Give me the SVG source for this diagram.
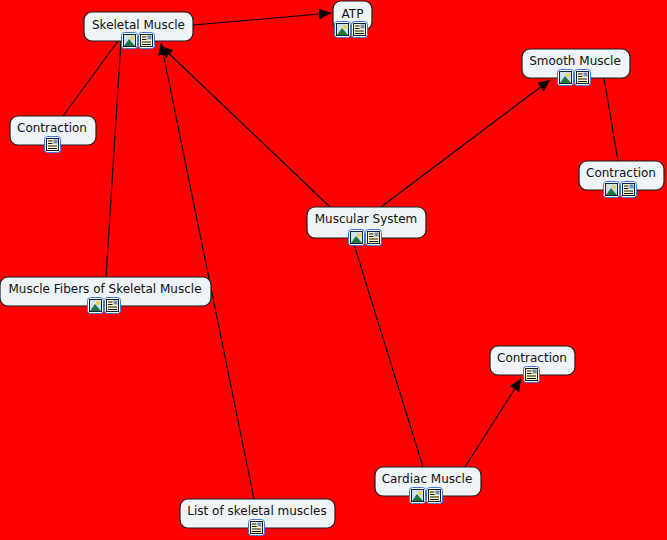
<svg xmlns="http://www.w3.org/2000/svg" width="667" height="540" viewBox="0 0 667 540">
<style>
.n{fill:#eff4f8;stroke:#1c1c1c;stroke-width:1.2}
.t{font-family:"DejaVu Sans",Verdana,sans-serif;font-size:12px;fill:#111;text-anchor:middle}
.c{stroke:#000;stroke-width:1.1;fill:none}
</style>
<defs>
<marker id="a" markerUnits="userSpaceOnUse" markerWidth="13" markerHeight="12" refX="12" refY="5.500" orient="auto"><path d="M0 0L12 5.500L0 11z" fill="#000"/></marker>
<g id="img"><rect x="-.5" y="-.5" width="16" height="16" rx="3" fill="#fff" stroke="#3c78d8"/><rect x="1.500" y="1.500" width="12" height="12" fill="#cfe2f3" stroke="#123"/><circle cx="10" cy="5" r="2" fill="#f0d040"/><path d="M2 13L7 6L13 13z" fill="#1e7a3c"/></g>
<g id="doc"><rect x="-.5" y="-.5" width="16" height="16" rx="3" fill="#fff" stroke="#3c78d8"/><rect x="1.500" y="1.500" width="12" height="12" fill="#fdf6c8" stroke="#123"/><rect x="8.500" y="2.500" width="4" height="4" fill="#6a8fc0"/><path d="M3 4H7.500M3 6.500H7.500M3 9H12M3 11.500H12" stroke="#111" stroke-width="1"/></g>
</defs>
<rect width="667" height="540" fill="#f00"/>
<g id="connectors">
<path class="c" marker-end="url(#a)" d="M193 25L331 13"/>
<path class="c" d="M118 41L63 116"/>
<path class="c" d="M121 41L106 277"/>
<path class="c" marker-end="url(#a)" d="M254 499L161 43"/>
<path class="c" marker-end="url(#a)" d="M330 207L161 46"/>
<path class="c" marker-end="url(#a)" d="M381 207L550 80"/>
<path class="c" d="M604 78L618 161"/>
<path class="c" d="M352 238L423 467"/>
<path class="c" marker-end="url(#a)" d="M465 467L521 379"/>
</g>
<g id="skeletal"><rect class="n" x="84" y="12" width="109" height="29" rx="8"/><text class="t" x="138.500" y="29">Skeletal Muscle</text><use href="#img" x="122" y="33"/><use href="#doc" x="139" y="33"/></g>
<g id="atp"><rect class="n" x="333" y="1" width="39" height="29" rx="8"/><text class="t" x="352.500" y="18">ATP</text><use href="#img" x="335" y="22"/><use href="#doc" x="352" y="22"/></g>
<g id="smooth"><rect class="n" x="522" y="49" width="108" height="29" rx="8"/><text class="t" x="575" y="65">Smooth Muscle</text><use href="#img" x="558" y="70"/><use href="#doc" x="575" y="70"/></g>
<g id="contraction1"><rect class="n" x="10" y="116" width="86" height="29" rx="8"/><text class="t" x="52" y="132">Contraction</text><use href="#doc" x="45" y="137"/></g>
<g id="contraction2"><rect class="n" x="579" y="161" width="85" height="29" rx="8"/><text class="t" x="621" y="177">Contraction</text><use href="#img" x="604" y="182"/><use href="#doc" x="621" y="182"/></g>
<g id="muscular"><rect class="n" x="307" y="207" width="119" height="31" rx="8"/><text class="t" x="366" y="223">Muscular System</text><use href="#img" x="349" y="230"/><use href="#doc" x="366" y="230"/></g>
<g id="fibers"><rect class="n" x="0" y="277" width="211" height="29" rx="8"/><text class="t" x="105" y="293">Muscle Fibers of Skeletal Muscle</text><use href="#img" x="88" y="298"/><use href="#doc" x="105" y="298"/></g>
<g id="contraction3"><rect class="n" x="490" y="346" width="85" height="29" rx="8"/><text class="t" x="532" y="362">Contraction</text><use href="#doc" x="524" y="367"/></g>
<g id="cardiac"><rect class="n" x="375" y="467" width="106" height="29" rx="8"/><text class="t" x="427" y="483">Cardiac Muscle</text><use href="#img" x="410" y="488"/><use href="#doc" x="427" y="488"/></g>
<g id="list"><rect class="n" x="180" y="499" width="155" height="29" rx="8"/><text class="t" x="257" y="515">List of skeletal muscles</text><use href="#doc" x="249" y="520"/></g>
</svg>
